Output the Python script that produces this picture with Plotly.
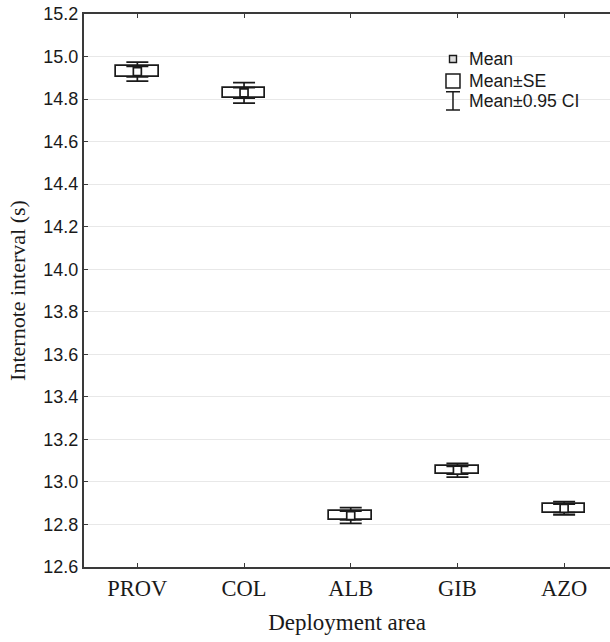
import plotly.graph_objects as go

# Data
areas = ["PROV", "COL", "ALB", "GIB", "AZO"]
means = [14.929, 14.829, 12.842, 13.055, 12.876]
se = [0.025, 0.025, 0.021, 0.018, 0.020]
ci95 = [0.045, 0.048, 0.037, 0.032, 0.031]
yticks = [12.6, 12.8, 13.0, 13.2, 13.4, 13.6, 13.8, 14.0, 14.2, 14.4, 14.6, 14.8, 15.0, 15.2]
legend_labels = ["Mean", "Mean±SE", "Mean±0.95 CI"]

SANS = "Liberation Sans, Arial, sans-serif"
SERIF = "Liberation Serif, Times New Roman, serif"
INK = "#1a1a1a"

box_base = [m - s for m, s in zip(means, se)]
box_h = [2 * s for s in se]
up_mid = [m + (s + c) / 2 for m, s, c in zip(means, se, ci95)]
lo_mid = [m - (s + c) / 2 for m, s, c in zip(means, se, ci95)]
whisk = [(c - s) / 2 for s, c in zip(se, ci95)]

fig = go.Figure()

# Mean ± SE boxes
fig.add_trace(go.Bar(
    x=areas, y=box_h, base=box_base, width=0.4,
    marker=dict(color="white", line=dict(color=INK, width=1.7)),
    showlegend=False, hoverinfo="skip"))

# CI whiskers (upper and lower segments with caps)
for mid in (up_mid, lo_mid):
    fig.add_trace(go.Scatter(
        x=areas, y=mid, mode="markers",
        marker=dict(size=1, color="rgba(0,0,0,0)"),
        error_y=dict(type="data", array=whisk, symmetric=True,
                     width=11, thickness=1.7, color=INK),
        showlegend=False, hoverinfo="skip"))

# Mean markers
fig.add_trace(go.Scatter(
    x=areas, y=means, mode="markers",
    marker=dict(symbol="square", size=8, color="white",
                line=dict(color=INK, width=1.7)),
    showlegend=False))

# Custom legend on an overlay axis (fractions of the plot area)
lx = 0.7015
ly = [0.9186, 0.879, 0.843]
fig.add_trace(go.Scatter(
    x=[lx], y=[ly[0]], xaxis="x2", yaxis="y2", mode="markers",
    marker=dict(symbol="square", size=7, color="#dddddd",
                line=dict(color=INK, width=1.4)),
    showlegend=False, hoverinfo="skip"))
fig.add_trace(go.Scatter(
    x=[lx], y=[ly[1]], xaxis="x2", yaxis="y2", mode="markers",
    marker=dict(symbol="square", size=14, color="white",
                line=dict(color=INK, width=1.5)),
    showlegend=False, hoverinfo="skip"))
fig.add_trace(go.Scatter(
    x=[lx], y=[ly[2]], xaxis="x2", yaxis="y2", mode="markers",
    marker=dict(size=1, color="rgba(0,0,0,0)"),
    error_y=dict(type="constant", value=0.0165, width=7,
                 thickness=1.5, color=INK),
    showlegend=False, hoverinfo="skip"))

annotations = []
for lab, yy in zip(legend_labels, ly):
    annotations.append(dict(
        x=0.728, y=yy, xref="x2 domain", yref="y2",
        text=lab, showarrow=False, xanchor="left", yanchor="middle",
        font=dict(family=SANS, size=17.6, color=INK)))

fig.update_layout(
    width=610, height=642,
    margin=dict(l=84, r=0, t=14, b=75, autoexpand=False),
    paper_bgcolor="white", plot_bgcolor="white",
    bargap=0,
    annotations=annotations,
    xaxis=dict(
        type="category", categoryorder="array", categoryarray=areas,
        range=[-0.5, 4.43],
        showline=True, linecolor="#3a3a3a", linewidth=2,
        mirror="ticks", ticks="inside", ticklen=4, tickcolor="#3a3a3a",
        showgrid=False, zeroline=False,
        tickfont=dict(family=SERIF, size=22.5, color=INK),
        title=dict(text="Deployment area", standoff=14,
                   font=dict(family=SERIF, size=23, color=INK)),
    ),
    yaxis=dict(
        range=[12.6, 15.2], tickvals=yticks,
        ticktext=[f"{v:.1f}" for v in yticks],
        showline=True, linecolor="#3a3a3a", linewidth=2,
        ticks="inside", ticklen=4, tickcolor="#3a3a3a",
        showgrid=True, gridcolor="#e8e8e8", gridwidth=1,
        zeroline=False,
        tickfont=dict(family=SANS, size=18, color=INK),
        title=dict(text="Internote interval (s)", standoff=12,
                   font=dict(family=SERIF, size=22, color=INK)),
    ),
    xaxis2=dict(overlaying="x", range=[0, 1], visible=False,
                showgrid=False, zeroline=False),
    yaxis2=dict(overlaying="y", range=[0, 1], visible=False,
                showgrid=False, zeroline=False),
)

fig.write_html("out.html",
               config={"displayModeBar": False},
               post_script="document.body.style.margin='0';document.body.style.overflow='hidden';")
